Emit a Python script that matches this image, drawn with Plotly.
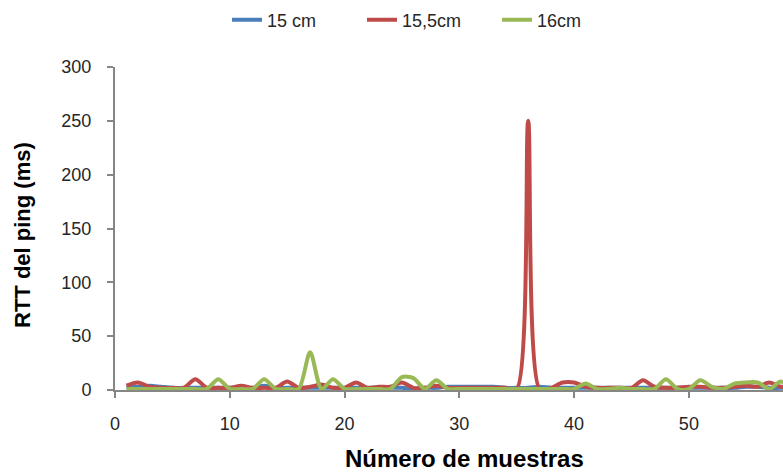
import plotly.graph_objects as go

samples = list(range(1, 61))
blue_15cm = [2,3,4,3,2,2,2,2,2,2,2,2,4,2,2,2,2,2,2,2,2,2,2,2,2,1,2,2,3,3,
             3,3,3,2,2,2,3,2,2,2,2,2,2,2,2,2,2,2,2,2,2,2,2,2,3,3,2,2,2,2]
red_155cm = [4,7,3,2,2,2,10,2,2,2,4,2,2,2,8,2,3,5,2,2,7,2,3,3,7,2,2,4,2,2,
             2,2,2,2,1,250,1,2,7,7,3,2,2,2,2,9,3,2,2,3,3,2,2,3,4,3,7,3,3,3]
green_16cm = [1,1,1,1,1,1,1,1,10,1,1,1,10,1,1,1,35,1,10,1,1,1,1,1,12,11,1,9,1,1,
              1,1,1,1,1,1,1,1,1,1,6,1,1,2,1,1,1,10,1,1,9,3,1,6,7,7,1,8,1,1]
series_names = ["15 cm", "15,5cm", "16cm"]
colors = ["#4a7ebb", "#be4b48", "#98b954"]

fig = go.Figure()
for name, vals, c in zip(series_names, [blue_15cm, red_155cm, green_16cm], colors):
    fig.add_trace(go.Scatter(x=samples, y=vals, mode="lines", name=name,
                             line=dict(color=c, width=4, shape="spline", smoothing=0.8)))

axis_color = "#868686"
tick_font = dict(family="Liberation Sans, Arial, sans-serif", size=18, color="#262626")
fig.update_layout(
    width=783, height=472,
    margin=dict(l=115, r=0, t=67, b=82),
    plot_bgcolor="white", paper_bgcolor="white",
    showlegend=True,
    legend=dict(orientation="h", x=(227 - 115) / 668, y=1.145, xanchor="left", yanchor="middle",
                font=dict(family="Liberation Sans, Arial, sans-serif", size=18, color="#262626"),
                entrywidth=90, entrywidthmode="pixels", tracegroupgap=0),
    xaxis=dict(range=[0, 58.2], tickvals=[0, 10, 20, 30, 40, 50], showgrid=False, zeroline=False,
               showline=True, linecolor=axis_color, linewidth=2, ticks="outside",
               tickcolor=axis_color, ticklen=6, tickwidth=2, tickfont=tick_font,
               ticklabelstandoff=10),
    yaxis=dict(range=[0, 300], tickvals=[0, 50, 100, 150, 200, 250, 300], showgrid=False,
               zeroline=False, showline=True, linecolor=axis_color, linewidth=2,
               ticks="outside", tickcolor=axis_color, ticklen=6, tickwidth=2,
               tickfont=tick_font, ticklabelstandoff=12),
    annotations=[
        dict(text="<b>Número de muestras</b>", xref="paper", yref="paper",
             x=(464 - 115) / 668, y=-(458 - 390) / 323, xanchor="center", yanchor="middle",
             showarrow=False,
             font=dict(family="Liberation Sans Narrow, Arial Narrow, sans-serif", size=24, color="#000000")),
        dict(text="<b>RTT del ping (ms)</b>", xref="paper", yref="paper",
             x=-(115 - 22) / 668, y=(390 - 235) / 323, xanchor="center", yanchor="middle",
             textangle=-90, showarrow=False,
             font=dict(family="Liberation Sans Narrow, Arial Narrow, sans-serif", size=22, color="#000000")),
    ],
)
fig.write_html("out.html")
